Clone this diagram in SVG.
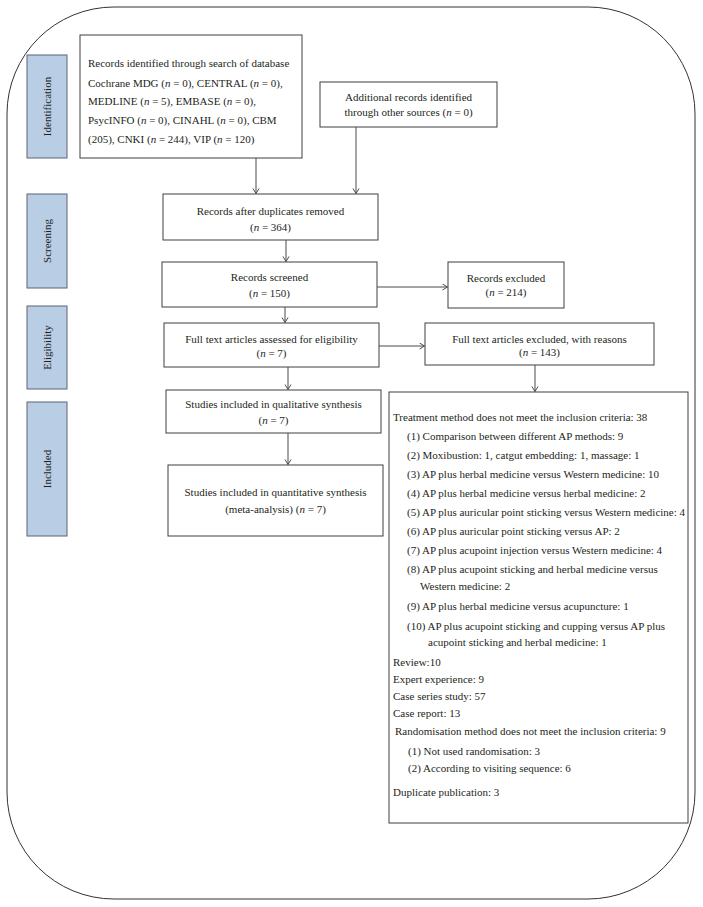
<svg xmlns="http://www.w3.org/2000/svg" width="703" height="907" viewBox="0 0 703 907">
<defs>
<style>
text{font-family:"Liberation Serif","Times New Roman",serif;font-size:11px;fill:#231f20}
.c{text-anchor:middle}
.i{font-style:italic}
.box{fill:#fff;stroke:#3f3f3f;stroke-width:1}
.side{fill:#b9cde5;stroke:#5a6470;stroke-width:1}
.con{fill:none;stroke:#4a4a4a;stroke-width:1;marker-end:url(#ah)}
</style>
<marker id="ah" markerWidth="8" markerHeight="8" refX="6" refY="3.5" orient="auto" markerUnits="userSpaceOnUse">
<path d="M1,0.5 L6,3.5 L1,6.5" fill="none" stroke="#4a4a4a" stroke-width="1"/>
</marker>
</defs>
<rect x="7" y="7" width="688" height="892" rx="107" ry="107" fill="#fff" stroke="#333" stroke-width="1"/>

<g id="side-identification"><rect class="side" x="27" y="55" width="40" height="103"/><text class="c" transform="translate(51,106.5) rotate(-90)">Identification</text></g>
<g id="side-screening"><rect class="side" x="27" y="194" width="40" height="94"/><text class="c" transform="translate(51,241) rotate(-90)">Screening</text></g>
<g id="side-eligibility"><rect class="side" x="27" y="306" width="40" height="83"/><text class="c" transform="translate(51,347.5) rotate(-90)">Eligibility</text></g>
<g id="side-included"><rect class="side" x="27" y="402" width="40" height="134"/><text class="c" transform="translate(51,469) rotate(-90)">Included</text></g>

<g id="db-search"><rect class="box" x="80" y="35" width="222" height="123"/>
<text x="88" y="67">Records identified through search of database</text>
<text x="88" y="87">Cochrane MDG (<tspan class="i">n</tspan> = 0), CENTRAL (<tspan class="i">n</tspan> = 0),</text>
<text x="88" y="105">MEDLINE (<tspan class="i">n</tspan> = 5), EMBASE (<tspan class="i">n</tspan> = 0),</text>
<text x="88" y="124">PsycINFO (<tspan class="i">n</tspan> = 0), CINAHL (<tspan class="i">n</tspan> = 0), CBM</text>
<text x="88" y="143">(205), CNKI (<tspan class="i">n</tspan> = 244), VIP (<tspan class="i">n</tspan> = 120)</text>
</g>
<g id="additional"><rect class="box" x="320" y="82" width="177" height="45"/>
<text class="c" x="408.5" y="101">Additional records identified</text>
<text class="c" x="408.5" y="116">through other sources (<tspan class="i">n</tspan> = 0)</text>
</g>
<g id="dedup"><rect class="box" x="163" y="194" width="215" height="46"/>
<text class="c" x="270.5" y="215">Records after duplicates removed</text>
<text class="c" x="270.5" y="231">(<tspan class="i">n</tspan> = 364)</text>
</g>
<g id="screened"><rect class="box" x="162" y="262" width="215" height="45"/>
<text class="c" x="269.5" y="281">Records screened</text>
<text class="c" x="269.5" y="297">(<tspan class="i">n</tspan> = 150)</text>
</g>
<g id="excluded"><rect class="box" x="448" y="262" width="116" height="46"/>
<text class="c" x="506" y="282">Records excluded</text>
<text class="c" x="506" y="296">(<tspan class="i">n</tspan> = 214)</text>
</g>
<g id="fulltext"><rect class="box" x="164" y="323" width="215" height="44"/>
<text class="c" x="271.5" y="343">Full text articles assessed for eligibility</text>
<text class="c" x="271.5" y="357">(<tspan class="i">n</tspan> = 7)</text>
</g>
<g id="fulltext-excluded"><rect class="box" x="425" y="323" width="229" height="42"/>
<text class="c" x="539.5" y="343">Full text articles excluded, with reasons</text>
<text class="c" x="539.5" y="356">(<tspan class="i">n</tspan> = 143)</text>
</g>
<g id="qualitative"><rect class="box" x="166" y="390" width="215" height="43"/>
<text class="c" x="273.5" y="408">Studies included in qualitative synthesis</text>
<text class="c" x="273.5" y="424">(<tspan class="i">n</tspan> = 7)</text>
</g>
<g id="quantitative"><rect class="box" x="168" y="465" width="215" height="71"/>
<text class="c" x="275.5" y="496">Studies included in quantitative synthesis</text>
<text class="c" x="275.5" y="513">(meta-analysis) (<tspan class="i">n</tspan> = 7)</text>
</g>
<g id="reasons"><rect class="box" x="389" y="392" width="299" height="431"/>
<text x="393" y="421">Treatment method does not meet the inclusion criteria: 38</text>
<text x="407" y="440">(1) Comparison between different AP methods: 9</text>
<text x="407" y="459">(2) Moxibustion: 1, catgut embedding: 1, massage: 1</text>
<text x="407" y="478">(3) AP plus herbal medicine versus Western medicine: 10</text>
<text x="407" y="497">(4) AP plus herbal medicine versus herbal medicine: 2</text>
<text x="407" y="516">(5) AP plus auricular point sticking versus Western medicine: 4</text>
<text x="407" y="535">(6) AP plus auricular point sticking versus AP: 2</text>
<text x="407" y="554">(7) AP plus acupoint injection versus Western medicine: 4</text>
<text x="407" y="573">(8) AP plus acupoint sticking and herbal medicine versus</text>
<text x="420" y="590">Western medicine: 2</text>
<text x="407" y="610">(9) AP plus herbal medicine versus acupuncture: 1</text>
<text x="407" y="630">(10) AP plus acupoint sticking and cupping versus AP plus</text>
<text x="428" y="646">acupoint sticking and herbal medicine: 1</text>
<text x="393" y="666">Review:10</text>
<text x="393" y="683">Expert experience: 9</text>
<text x="393" y="700">Case series study: 57</text>
<text x="393" y="717">Case report: 13</text>
<text x="395" y="735">Randomisation method does not meet the inclusion criteria: 9</text>
<text x="408" y="755">(1) Not used randomisation: 3</text>
<text x="408" y="772">(2) According to visiting sequence: 6</text>
<text x="393" y="796">Duplicate publication: 3</text>
</g>

<g id="connectors">
<line class="con" x1="256" y1="158" x2="256" y2="193.5"/>
<line class="con" x1="356" y1="127" x2="356" y2="193.5"/>
<line class="con" x1="286" y1="240" x2="286" y2="261.5"/>
<line class="con" x1="377" y1="287" x2="447.5" y2="287"/>
<line class="con" x1="285" y1="307" x2="285" y2="322.5"/>
<line class="con" x1="379" y1="346" x2="424.5" y2="346"/>
<line class="con" x1="535" y1="365" x2="535" y2="391.5"/>
<line class="con" x1="288" y1="367" x2="288" y2="389.5"/>
<line class="con" x1="288" y1="433" x2="288" y2="464.5"/>
</g>
</svg>
